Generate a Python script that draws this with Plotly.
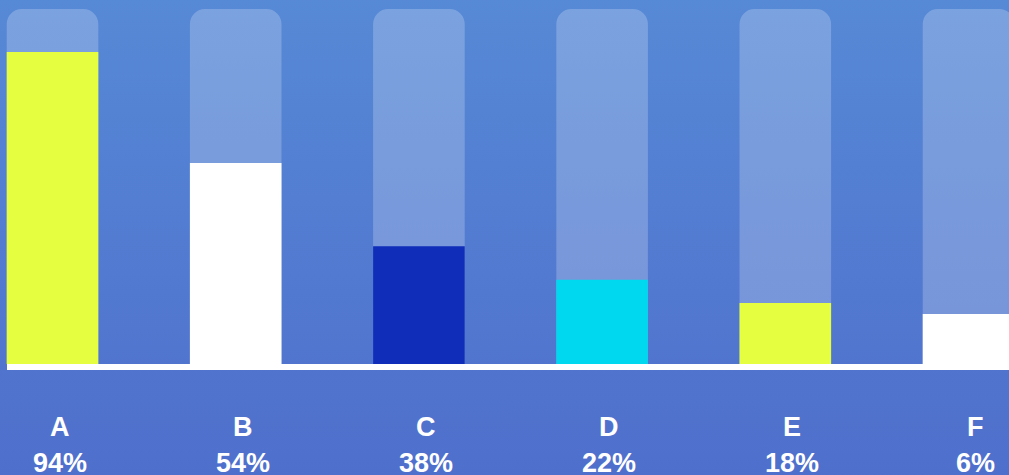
import plotly.graph_objects as go

categories = ["A", "B", "C", "D", "E", "F"]
pct_labels = ["94%", "54%", "38%", "22%", "18%", "6%"]
track_values = [100, 100, 100, 100, 100, 100]
fill_values = [87.9, 56.6, 33.2, 23.7, 17.2, 14.1]
fill_colors = ["#e5ff40", "#ffffff", "#0f2db8", "#00d8f0", "#e5ff40", "#ffffff"]

W, H = 1009, 475

bg_svg = (
    "data:image/svg+xml;utf8,"
    "<svg xmlns='http://www.w3.org/2000/svg' width='100' height='100' preserveAspectRatio='none'>"
    "<defs><linearGradient id='g' x1='0' y1='0' x2='0' y2='1'>"
    "<stop offset='0' stop-color='%235689d6'/>"
    "<stop offset='1' stop-color='%234f6fcc'/>"
    "</linearGradient></defs>"
    "<rect width='100' height='100' fill='url(%23g)'/></svg>"
)

fig = go.Figure()
fig.add_trace(go.Bar(
    x=categories, y=track_values, width=0.5,
    marker=dict(color="rgba(255,255,255,0.22)", line=dict(width=0), cornerradius=15),
    hoverinfo="skip", showlegend=False,
))
fig.add_trace(go.Bar(
    x=categories, y=fill_values, width=0.5,
    marker=dict(color=fill_colors, line=dict(width=0)),
    showlegend=False,
))

annotations = []
for c, p in zip(categories, pct_labels):
    annotations.append(dict(x=c, y=1 - 426.5 / H, xref="x", yref="paper", text=c,
                            showarrow=False, xshift=7, yanchor="middle",
                            font=dict(family="Liberation Sans", size=27, color="white", weight="bold")))
    annotations.append(dict(x=c, y=1 - 462.5 / H, xref="x", yref="paper", text=p,
                            showarrow=False, xshift=7, yanchor="middle",
                            font=dict(family="Liberation Sans", size=27, color="white", weight="bold")))

fig.update_layout(
    width=W, height=H,
    margin=dict(l=0, r=0, t=0, b=0),
    barmode="overlay",
    paper_bgcolor="#5177ce",
    plot_bgcolor="rgba(0,0,0,0)",
    images=[dict(source=bg_svg, xref="paper", yref="paper", x=0, y=1, sizex=1, sizey=1,
                 sizing="stretch", layer="below", xanchor="left", yanchor="top")],
    xaxis=dict(range=[-0.2866, 5.221], visible=False, fixedrange=True),
    yaxis=dict(range=[-31.27, 102.54], visible=False, fixedrange=True),
    shapes=[dict(type="rect", xref="paper", yref="paper", x0=7 / W, x1=1.0,
                 y0=1 - 370 / H, y1=1 - 364 / H, fillcolor="white", line=dict(width=0),
                 layer="above")],
    annotations=annotations,
)

fig.write_html("out.html", config={"displayModeBar": False},
               post_script="document.body.style.margin='0';document.body.style.overflow='hidden';")
